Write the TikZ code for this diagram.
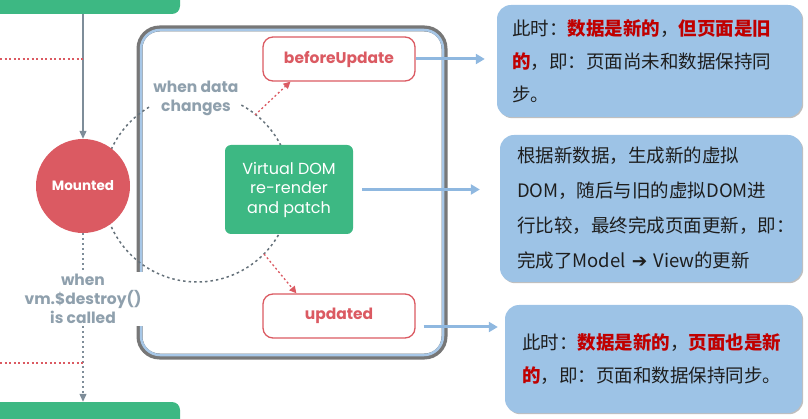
\documentclass[tikz,border=0pt]{standalone}
\usepackage{fontspec}
\setmainfont{Poppins}
\newfontfamily\zhfont{Noto Sans CJK SC}
\newfontfamily\symfont{DejaVu Sans}
\usetikzlibrary{arrows.meta,positioning,shadows}
\definecolor{vuegreen}{HTML}{3DB883}
\definecolor{hookred}{HTML}{DB5A62}
\definecolor{slate}{HTML}{7E8D99}
\definecolor{labelgray}{HTML}{8FA0AD}
\definecolor{notefill}{HTML}{9DC3E6}
\definecolor{notearrowc}{HTML}{8FB8E0}
\definecolor{framegray}{HTML}{777777}
\definecolor{frameblue}{HTML}{A7C7E7}
\definecolor{newred}{HTML}{C00000}
\definecolor{inktext}{HTML}{1E1E1E}
\newcommand{\hl}[1]{{\bfseries\color{newred}#1}}
\tikzset{
  stagebox/.style={fill=vuegreen, rounded corners=8pt, minimum width=194pt, minimum height=30pt},
  mountnode/.style={circle, fill=hookred, minimum size=94pt, inner sep=0pt, text=white, font=\bfseries\fontsize{13.5}{16}\selectfont},
  vdomnode/.style={fill=vuegreen, rounded corners=6pt, minimum width=128pt, minimum height=89pt, text=white, align=center, font=\fontsize{16}{19.5}\selectfont},
  hookbox/.style={draw=hookred, fill=white, line width=1.3pt, rounded corners=10pt, minimum width=152pt, minimum height=44pt, text=hookred, font=\bfseries\fontsize{15.5}{17}\selectfont},
  graylab/.style={fill=white, inner sep=2pt, text=labelgray, align=center, font=\bfseries\fontsize{15.5}{19}\selectfont},
  flowline/.style={draw=slate, line width=1.2pt},
  flowarrow/.style={flowline, -{Triangle[length=8pt,width=7pt]}},
  dotflow/.style={flowline, dash pattern=on 2pt off 3pt},
  reddots/.style={draw=hookred, line width=1.3pt, dash pattern=on 2pt off 2.5pt},
  hookarrow/.style={reddots, -{Triangle[length=7pt,width=7pt]}},
  loopdots/.style={draw=slate!80!black, line width=1.5pt, dash pattern=on 2.5pt off 3pt},
  notearrow/.style={draw=notearrowc, line width=3pt, -{Triangle[length=9pt,width=10pt]}},
  note/.style={fill=notefill, rounded corners=14pt, drop shadow={shadow xshift=1.2pt, shadow yshift=-1.2pt, opacity=0.5}, text=inktext, align=left, inner xsep=0pt, font=\zhfont\fontsize{18.5}{33}\selectfont},
}
\begin{document}
\begin{tikzpicture}[x=1pt,y=-1pt]
  \useasboundingbox (0,0) rectangle (808,419);
  \clip (0,0) rectangle (808,419);

  % update loop frame
  \draw[framegray, line width=6pt, rounded corners=20pt] (139.5,28.5) rectangle (444.5,356.5);
  \draw[frameblue, line width=2.5pt, rounded corners=19pt] (141,30) rectangle (443,355);
  \draw[loopdots] (197,188) circle[radius=94pt];

  \node[stagebox] (created) at (83,-1) {};
  \node[stagebox] (destroyed) at (83,417) {};
  \node[mountnode] (mounted) at (83,186) {Mounted};
  \node[graylab] (destroyhint) at (83,299) {when\\vm.\$destroy()\\is called};
  \node[graylab] (datahint) at (196,98) {when data\\changes};
  \node[vdomnode] (vdom) at (289,189.5) {Virtual DOM\\re-render\\and patch};
  \node[hookbox] (before) at (339,59) {beforeUpdate};
  \node[hookbox] (updated) at (339,316) {updated};

  \node[note, minimum width=305pt, minimum height=112pt, text width=275pt] (note1) at (649.5,61)
    {此时：\hl{数据是新的}，\hl{但页面是旧}\\\hl{的}，即：页面尚未和数据保持同\\步。};
  \node[note, minimum width=302pt, minimum height=147pt, text width=268pt, font=\zhfont\fontsize{18.5}{35}\selectfont] (note2) at (651,208.5)
    {根据新数据，生成新的虚拟\\DOM，随后与旧的虚拟DOM进\\行比较，最终完成页面更新，即：\\完成了Model {\symfont ➔} View的更新};
  \node[note, minimum width=297pt, minimum height=108pt, text width=263pt] (note3) at (653.5,359)
    {此时：\hl{数据是新的}，\hl{页面也是新}\\\hl{的}，即：页面和数据保持同步。};

  \draw[flowarrow] (created) -- (mounted);
  \coordinate (mountleft) at (0,59);
  \draw[reddots] (mountleft) -- (mountleft -| created.south);
  \draw[dotflow] (mounted) -- (destroyhint);
  \draw[dotflow, -{Triangle[length=8pt,width=7pt]}] (destroyhint) -- (destroyed);
  \coordinate (destroyleft) at (0,363);
  \draw[reddots] (destroyleft) -- (destroyleft -| destroyhint.south);

  \coordinate (leaveloop) at (255,115);
  \coordinate (backloop) at (264,254);
  \draw[hookarrow] (leaveloop) -- (before.205);
  \draw[hookarrow] (backloop) -- (updated.152);

  \draw[notearrow, shorten >=12pt] (before.east) -- (before.east -| note1.west);
  \draw[notearrow, shorten <=9pt, shorten >=20pt] (vdom.east) -- (vdom.east -| note2.west);
  \coordinate (updout) at ([xshift=8pt,yshift=-11pt]updated.east);
  \draw[notearrow, shorten >=7pt] (updout) -- (updout -| note3.west);
\end{tikzpicture}
\end{document}
